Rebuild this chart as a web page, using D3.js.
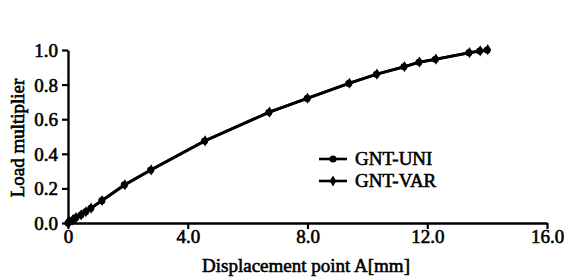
<!DOCTYPE html>
<html>
<head>
<meta charset="utf-8">
<script src="https://cdn.jsdelivr.net/npm/d3@7"></script>
<style>
  body { margin: 0; background: #fff; }
</style>
</head>
<body>
<svg id="chart" width="564" height="277"></svg>
<script>
// displacement (mm) and load multiplier
var uniDisp = [0, 0.04, 0.15, 0.26, 0.43, 0.59, 0.76, 1.13, 1.88, 2.76, 4.56, 6.71, 7.99, 9.38, 10.30, 11.22, 11.72, 12.27, 13.39, 13.75, 14.0];
var uniLoad = [0, 0.008, 0.017, 0.031, 0.046, 0.065, 0.085, 0.129, 0.22, 0.306, 0.474, 0.64, 0.72, 0.807, 0.86, 0.903, 0.929, 0.946, 0.984, 0.994, 1.0];
var varDisp = [0, 0.05, 0.16, 0.27, 0.44, 0.6, 0.77, 1.14, 1.9, 2.78, 4.58, 6.73, 8.0, 9.4, 10.32, 11.24, 11.74, 12.29, 13.41, 13.77, 14.02];
var varLoad = [0, 0.008, 0.018, 0.031, 0.047, 0.065, 0.086, 0.13, 0.221, 0.307, 0.475, 0.641, 0.721, 0.808, 0.861, 0.904, 0.93, 0.947, 0.985, 0.995, 1.002];
var xTicks = [0, 4, 8, 12, 16];
var yTicks = [0, 0.2, 0.4, 0.6, 0.8, 1.0];
var seriesNames = ["GNT-UNI", "GNT-VAR"];

// bold serif maps to a sans face here, so thicken regular serif with a thin stroke
var FONT = "'Liberation Serif', 'Times New Roman', serif";
var FS = 19;
function serif(sel) {
  return sel.attr("font-family", FONT).attr("font-size", FS).attr("font-weight", "normal")
    .attr("fill", "#000").attr("stroke", "#000").attr("stroke-width", 0.6);
}

var svg = d3.select("#chart");
var margin = { top: 50, right: 17, bottom: 54, left: 68 },
  width = 564 - margin.left - margin.right,
  height = 277 - margin.top - margin.bottom;

var x = d3.scaleLinear().domain([0, 16]).range([0, 479]);
var y = d3.scaleLinear().domain([0, 1]).range([height, 0]);

var g = svg.append("g")
  .attr("transform", "translate(" + margin.left + "," + margin.top + ")");

// axes
var xAxis = g.append("g")
  .attr("transform", "translate(0," + height + ")")
  .call(d3.axisBottom(x).tickValues(xTicks).tickSize(6).tickSizeOuter(0)
    .tickFormat(function(d) { return d === 0 ? "0" : d3.format(".1f")(d); }));
var yAxis = g.append("g")
  .call(d3.axisLeft(y).tickValues(yTicks).tickSize(6).tickSizeOuter(0).tickFormat(d3.format(".1f")));

[xAxis, yAxis].forEach(function(a) {
  a.select(".domain").attr("stroke", "#000").attr("stroke-width", 2.4);
  a.selectAll(".tick line").attr("stroke", "#000").attr("stroke-width", 2.2);
  serif(a.selectAll(".tick text"));
});
xAxis.selectAll(".tick text").attr("y", 6).attr("dy", "0.76em");
yAxis.selectAll(".tick text").attr("x", -10).attr("dy", "0.34em");

// axis titles
serif(svg.append("text"))
  .attr("x", 306).attr("y", 272)
  .attr("text-anchor", "middle")
  .text("Displacement point A[mm]");
serif(svg.append("text"))
  .attr("transform", "translate(24,138) rotate(-90)")
  .attr("text-anchor", "middle")
  .text("Load multiplier");

var line = d3.line()
  .x(function(d) { return x(d[0]); })
  .y(function(d) { return y(d[1]); });

var uni = uniDisp.map(function(d, i) { return [d, uniLoad[i]]; });
var vr = varDisp.map(function(d, i) { return [d, varLoad[i]]; });

[uni, vr].forEach(function(data) {
  g.append("path").datum(data)
    .attr("fill", "none").attr("stroke", "#000").attr("stroke-width", 2.8)
    .attr("d", line);
});

var circleSym = d3.symbol().type(d3.symbolCircle).size(40);
var diamondSym = d3.symbol().type(d3.symbolDiamond).size(36);

g.selectAll(".uni").data(uni).enter().append("path")
  .attr("class", "uni")
  .attr("transform", function(d) { return "translate(" + x(d[0]) + "," + y(d[1]) + ")"; })
  .attr("d", circleSym).attr("fill", "#000");
g.selectAll(".var").data(vr).enter().append("path")
  .attr("class", "var")
  .attr("transform", function(d) { return "translate(" + x(d[0]) + "," + y(d[1]) + ")"; })
  .attr("d", diamondSym).attr("fill", "#000");

// legend
var legend = svg.append("g").attr("transform", "translate(319,159)");
seriesNames.forEach(function(name, i) {
  var row = legend.append("g").attr("transform", "translate(0," + (i * 22) + ")");
  row.append("line").attr("x1", 0).attr("x2", 28).attr("y1", 0).attr("y2", 0)
    .attr("stroke", "#000").attr("stroke-width", 2.6);
  row.append("path").attr("transform", "translate(14,0)")
    .attr("d", i === 0 ? circleSym : diamondSym).attr("fill", "#000");
  serif(row.append("text")).attr("x", 36).attr("y", 6).text(name);
});
</script>
</body>
</html>
